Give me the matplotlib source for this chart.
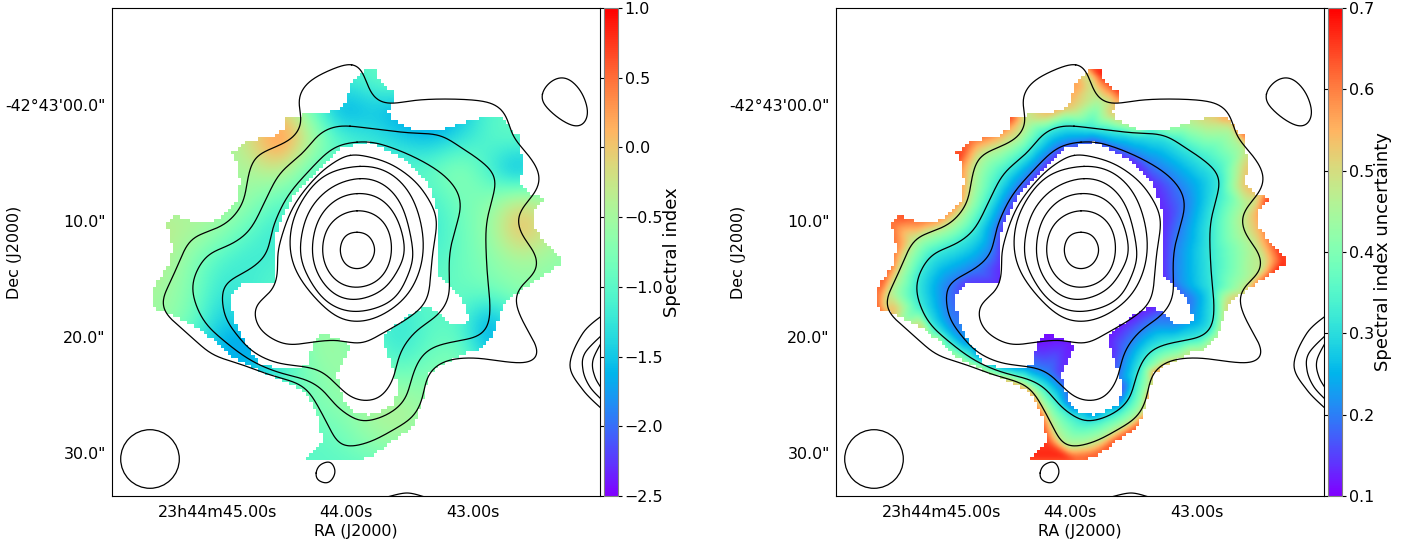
"""
Spectral index map and its uncertainty, with radio contours on top.
Everything positional is in map pixels of the plotted cutout.
"""
import numpy as np
import matplotlib
matplotlib.use('Agg')
import matplotlib.pyplot as plt
from matplotlib.colors import ListedColormap
from matplotlib.patches import Circle
from matplotlib.path import Path
from matplotlib.tri import Triangulation, LinearTriInterpolator

# tick labels
ra_ticks = [218, 345.5, 473]
ra_labels = ['23h44m45.00s', '44.00s', '43.00s']
dec_ticks = [105, 221, 337, 453]
dec_labels = ['-42°43\'00.0"', '10.0"', '20.0"', '30.0"']

# contours, outermost first
cont0 = [(352,63),(360,67),(367,83),(373,97),(387,104),(417,100),(450,99),(483,101),(500,107),(508,120),
         (513,137),(530,157),(540,175),(537,190),(523,207),(517,220),(523,237),(535,253),(537,270),(520,287),
         (515,300),(522,320),(537,347),(538,358),(527,363),(507,362),(477,358),(453,359),(437,365),(427,377),
         (422,400),(413,417),(393,430),(370,442),(347,447),(337,442),(327,423),(310,393),(297,383),(270,375),
         (243,365),(213,355),(197,342),(180,327),(165,313),(162,300),(170,283),(177,267),(190,240),(207,232),
         (227,223),(243,203),(248,177),(255,157),(273,148),(293,138),(302,122),(298,100),(307,83),(330,70)]
cont1 = [(350,126),(383,130),(410,133),(440,135),(460,147),(477,158),(493,172),(496,183),(492,200),(486,227),
         (487,270),(490,303),(488,327),(477,337),(457,341),(433,347),(420,358),(412,377),(405,400),(387,415),
         (363,422),(353,418),(337,407),(323,390),(307,380),(277,372),(250,360),(223,340),(203,320),(192,290),
         (198,268),(210,253),(230,245),(250,230),(267,197),(280,173),(303,153),(320,133),(337,126)]
cont2 = [(357,142),(377,143),(410,155),(440,172),(457,190),(461,207),(455,230),(450,250),(449,270),(449,297),
         (438,315),(417,330),(403,347),(397,363),(393,380),(380,398),(363,401),(350,397),(337,385),(323,372),
         (307,367),(277,363),(253,352),(237,335),(225,317),(222,293),(227,282),(252,268),(267,253),(273,227),
         (287,197),(307,173),(333,148)]
cont3 = [(350,154),(370,157),(393,165),(417,183),(433,207),(437,223),(433,250),(431,270),(427,300),(410,317),
         (383,333),(367,342),(357,344),(337,340),(313,342),(293,345),(280,343),(260,330),(254,313),(257,303),
         (273,290),(278,270),(278,250),(293,207),(320,173),(343,157)]
cont4 = [(360,166),(390,173),(412,197),(423,235),(420,270),(403,300),(370,320),(337,317),(303,283),(290,250),
         (296,212),(322,177)]
cont5 = [(360,178),(385,185),(403,208),(413,250),(410,270),(393,300),(357,312),(328,303),(308,277),(300,250),
         (308,213),(330,188)]
cont6 = [(357,193),(380,198),(397,218),(405,250),(398,270),(383,290),(357,300),(335,295),(318,275),(312,250),
         (318,220),(335,200)]
cont7 = [(357,210),(375,214),(388,228),(392,250),(387,270),(375,283),(357,288),(340,284),(327,270),(322,250),
         (327,228),(340,215)]
cont8 = [(357,232),(369,236),(375,250),(369,264),(357,269),(345,264),(340,250),(345,236)]
blob_ne = [(542,93),(550,82),(562,77),(573,82),(583,95),(588,113),(583,125),(573,126),(557,117),(543,103)]
blob_s = [(316,473),(320,465),(330,462),(335,470),(333,478),(327,483),(318,480)]

# open pieces that run off the edges of the cutout
edge_e0 = [(604,314),(583,333),(570,365),(583,390),(604,411)]
edge_e1 = [(604,333),(585,353),(583,370),(590,387),(604,402)]
edge_e2 = [(604,338),(593,360),(595,377),(604,392)]
edge_s = [(380,499),(387,497),(407,493),(425,497),(432,499)]

closed_contours = [cont0, cont1, cont2, cont3, cont4, cont5, cont6, cont7, cont8, blob_ne, blob_s]
open_contours = [edge_e0, edge_e1, edge_e2, edge_s]

beam_centre = (150, 459)
beam_radius = 29.3

# outline of the region with a measured index, and the uncertainty there
outer_edge = [(369,68),(378,68),(378,78),(383,85),(397,92),(392,103),(388,112),(393,120),(413,130),(443,130),
              (463,123),(483,117),(503,118),(510,128),(520,137),(523,167),(520,185),(530,193),(545,198),(533,213),
              (535,230),(547,243),(563,262),(553,270),(530,285),(515,295),(502,308),(498,322),(493,337),(478,352),
              (467,353),(440,365),(430,373),(423,400),(413,427),(393,440),(370,458),(350,460),(303,461),(323,442),
              (317,413),(307,393),(280,380),(257,369),(233,357),(213,340),(197,327),(167,313),(151,307),(153,290),
              (163,273),(168,268),(173,247),(167,223),(172,217),(180,217),(197,223),(217,220),(237,200),(240,183),
              (238,167),(232,153),(247,140),(273,137),(285,128),(285,117),(327,112),(343,107),(352,83),(363,70)]
outer_err = [.70,.70,.66,.62,.68,.58,.54,.50,.44,.42,
             .46,.52,.60,.62,.63,.54,.54,.60,.70,.56,
             .55,.62,.70,.68,.60,.55,.52,.48,.47,.48,
             .50,.60,.66,.65,.66,.66,.67,.67,.67,.66,
             .62,.55,.55,.50,.45,.50,.53,.58,.68,.66,
             .62,.60,.60,.62,.64,.64,.60,.58,.58,.56,
             .58,.70,.62,.56,.56,.68,.56,.54,.58,.66]
hole_edge = [(368,142),(337,150),(322,167),(293,197),(277,227),(276,268),(277,285),(240,285),(232,293),(233,317),
             (247,345),(260,365),(297,370),(307,365),(313,345),(320,333),(343,340),(350,347),(337,373),(343,398),
             (350,410),(370,415),(393,405),(398,387),(388,353),(382,340),(393,327),(417,310),(428,307),(440,313),
             (450,323),(465,323),(468,318),(463,300),(450,288),(439,277),(438,267),(440,217),(430,187),(407,160),
             (377,145)]
hole_err = [.15,.14,.13,.14,.14,.13,.13,.14,.17,.19,
            .26,.33,.28,.20,.12,.11,.12,.12,.14,.17,
            .22,.22,.20,.15,.13,.12,.12,.12,.12,.15,
            .20,.24,.22,.18,.14,.13,.13,.13,.13,.13,
            .15]
cont0_err = 0.47
cont1_err = 0.32
cont2_err = 0.20

# spectral index read on a coarse grid
index_x = [160,190,220,250,280,310,340,370,400,430,460,490,520,550,580]
index_y = [50,80,110,140,170,200,230,260,290,320,350,380,410,440,470]
index_grid = [
 [-1.0,-1.0,-1.0,-1.0,-1.0,-1.0,-1.0,-1.0,-1.0,-1.0,-1.0,-1.0,-1.0,-1.0,-1.0],
 [-1.0,-1.0,-1.0,-1.0,-1.0,-1.0,-1.2,-1.0,-0.7,-1.0,-1.0,-1.0,-1.0,-1.0,-1.0],
 [-0.6,-0.6,-0.6,-0.5, 0.1,-0.8,-1.9,-1.5,-1.8,-1.9,-1.7,-1.0,-1.0,-1.0,-1.0],
 [-0.6,-0.6,-0.6,-0.1, 0.6,-0.3,-1.0,-1.2,-1.4,-1.6,-1.3,-1.0,-0.9,-1.0,-1.0],
 [-0.5,-0.5,-0.5,-0.5,-0.2,-1.0,-1.1,-1.1,-1.0,-0.9,-0.55,-1.2,-2.0,-1.0,-1.0],
 [-0.5,-0.5,-0.4,-0.6,-1.0,-1.0,-1.0,-1.0,-1.0,-1.2,-0.8,-0.7,-0.1,-0.6,-0.6],
 [-0.3,-0.4,-0.6,-1.0,-1.3,-1.0,-1.0,-1.0,-1.0,-1.3,-0.9,-0.6, 0.3,-0.3,-0.6],
 [-0.3,-0.7,-1.1,-1.25,-1.1,-1.0,-1.0,-1.0,-1.0,-1.1,-0.9,-0.7,-0.5,-0.6,-0.7],
 [-0.5,-0.7,-1.3,-1.1,-1.0,-1.0,-1.0,-1.0,-1.0,-1.0,-0.9,-0.8,-0.6,-0.7,-0.7],
 [-0.5,-0.8,-1.5,-1.4,-1.0,-0.6,-0.6,-1.0,-1.3,-1.0,-1.0,-1.9,-1.0,-1.0,-1.0],
 [-0.8,-1.2,-1.7,-1.9,-1.3,-0.6,-0.5,-0.9,-1.3,-0.9,-0.8,-1.8,-1.0,-1.0,-1.0],
 [-1.0,-1.0,-1.3,-1.4,-1.1,-0.8,-0.55,-0.6,-0.75,-0.7,-0.6,-0.8,-1.0,-1.0,-1.0],
 [-1.0,-1.0,-1.0,-1.0,-1.0,-0.8,-0.7,-0.45,-0.35,-0.6,-0.7,-1.0,-1.0,-1.0,-1.0],
 [-1.0,-1.0,-1.0,-1.0,-1.0,-1.0,-0.9,-0.6,-0.5,-0.7,-1.0,-1.0,-1.0,-1.0,-1.0],
 [-1.0,-1.0,-1.0,-1.0,-1.0,-1.0,-1.0,-1.0,-1.0,-1.0,-1.0,-1.0,-1.0,-1.0,-1.0],
]

W, H = 1416, 546
xlim = (112, 600)
ylim = (496, 8)
block = 3.4


def pix_rect(x0, y0, x1, y1):
    return [x0 / W, 1 - y1 / H, (x1 - x0) / W, (y1 - y0) / H]


def spline(pts, closed=True, nsub=10):
    # catmull-rom through the vertices
    p = np.array(pts, dtype=float)
    if closed:
        p = np.vstack([p[-1], p, p[0], p[1]])
    else:
        p = np.vstack([p[0], p, p[-1]])
    t = np.linspace(0, 1, nsub, endpoint=False)[:, None]
    out = []
    for i in range(1, len(p) - 2):
        p0, p1, p2, p3 = p[i - 1], p[i], p[i + 1], p[i + 2]
        out.append(0.5 * (2 * p1 + (p2 - p0) * t + (2 * p0 - 5 * p1 + 4 * p2 - p3) * t ** 2
                          + (3 * p1 - p0 - 3 * p2 + p3) * t ** 3))
    out = np.vstack(out)
    return np.vstack([out, out[0]]) if closed else np.vstack([out, p[-2]])


def round_off(pts):
    # hand read vertices leave kinks, run a box along the closed line twice
    xy = spline(pts)
    s = np.r_[0, np.cumsum(np.hypot(*np.diff(xy, axis=0).T))]
    n = int(s[-1])
    si = np.linspace(0, s[-1], n, endpoint=False)
    x = np.interp(si, s, xy[:, 0])
    y = np.interp(si, s, xy[:, 1])
    win = max(3, min(19, n // 12))
    kernel = np.ones(win) / win
    for i in range(2):
        x = np.convolve(np.r_[x[-win:], x, x[:win]], kernel, 'same')[win:-win]
        y = np.convolve(np.r_[y[-win:], y, y[:win]], kernel, 'same')[win:-win]
    return np.column_stack([np.r_[x, x[0]], np.r_[y, y[0]]])


def white_mask():
    # blocky like the map pixels: white outside the measured region
    xs = np.arange(xlim[0], xlim[1] + block, block)
    ys = np.arange(ylim[1], ylim[0] + block, block)
    xc, yc = np.meshgrid(xs + block / 2, ys + block / 2)
    pts = np.column_stack([xc.ravel(), yc.ravel()])
    inside = Path(outer_edge + [outer_edge[0]]).contains_points(pts)
    inside &= ~Path(hole_edge + [hole_edge[0]]).contains_points(pts)
    return inside.reshape(xc.shape), (xs[0], xs[-1] + block, ys[-1] + block, ys[0])


def finish_panel(ax, mappable, cax, ticks, label):
    inside, extent = white_mask()
    white = ListedColormap(['white', (1, 1, 1, 0)])
    ax.imshow(inside, cmap=white, vmin=0, vmax=1, extent=extent, origin='upper',
              interpolation='nearest', aspect='auto', zorder=2)
    for c in closed_contours:
        xy = round_off(c)
        ax.plot(xy[:, 0], xy[:, 1], color='k', lw=0.9, zorder=3)
    for c in open_contours:
        xy = spline(c, closed=False)
        ax.plot(xy[:, 0], xy[:, 1], color='k', lw=0.9, zorder=3)
    ax.add_patch(Circle(beam_centre, beam_radius, fill=False, ec='k', lw=0.9, zorder=3))

    ax.set_xlim(xlim)
    ax.set_ylim(ylim)
    ax.set_xticks(ra_ticks, ra_labels)
    ax.set_yticks(dec_ticks, dec_labels)
    ax.tick_params(length=0, labelsize=11.4)
    ax.tick_params(axis='x', pad=6.5)
    ax.tick_params(axis='y', pad=4.5)
    ax.set_xlabel('RA (J2000)', fontsize=11.4, labelpad=3)
    ax.set_ylabel('Dec (J2000)', fontsize=11.4)
    ax.yaxis.set_label_coords(-90 / 488, 244 / 488)

    cb = fig.colorbar(mappable, cax=cax, ticks=ticks)
    cb.ax.tick_params(labelsize=11.4, left=True, right=True, length=2.7, width=0.8, pad=2)
    cb.set_label(label, fontsize=13, labelpad=0)
    cb.outline.set_edgecolor('0.5')


fig = plt.figure(figsize=(W / 100, H / 100), dpi=100)

# left, spectral index
ax1 = fig.add_axes(pix_rect(112, 8, 600, 496))
cax1 = fig.add_axes(pix_rect(603.5, 8, 618, 496))
half = (index_x[1] - index_x[0]) / 2
im = ax1.imshow(index_grid, cmap='rainbow', vmin=-2.5, vmax=1.0, origin='upper',
                extent=(index_x[0] - half, index_x[-1] + half, index_y[-1] + half, index_y[0] - half),
                interpolation='bicubic', aspect='auto', zorder=1)
finish_panel(ax1, im, cax1, np.arange(-2.5, 1.01, 0.5), 'Spectral index')

# right, uncertainty, spread between the region edges and the contour lines
ax2 = fig.add_axes(pix_rect(836, 8, 1324, 496))
cax2 = fig.add_axes(pix_rect(1327.5, 8, 1342, 496))
parts = [(np.array(outer_edge, dtype=float), np.array(outer_err)),
         (np.array(hole_edge, dtype=float), np.array(hole_err))]
for c, e in [(cont0, cont0_err), (cont1, cont1_err), (cont2, cont2_err)]:
    xy = spline(c, nsub=2)[:-1]
    parts.append((xy, np.full(len(xy), e)))
err_pts = np.vstack([p[0] for p in parts])
err_vals = np.concatenate([p[1] for p in parts])
err_pts, first = np.unique(err_pts, axis=0, return_index=True)
err_vals = err_vals[first]
tri = Triangulation(err_pts[:, 0], err_pts[:, 1])
gx, gy = np.meshgrid(np.arange(112, 601, 2.0), np.arange(8, 497, 2.0))
field = LinearTriInterpolator(tri, err_vals)(gx, gy).filled(0.6)
# the triangles fan out, a short blur takes the facets away
kernel = np.array([1, 2, 3, 4, 3, 2, 1]) / 16
field = np.apply_along_axis(np.convolve, 0, field, kernel, 'same')
field = np.apply_along_axis(np.convolve, 1, field, kernel, 'same')
tp = ax2.imshow(field, cmap='rainbow', vmin=0.1, vmax=0.7, origin='upper',
                extent=(111, 601, 497, 7), interpolation='bilinear', aspect='auto', zorder=1)
finish_panel(ax2, tp, cax2, np.arange(0.1, 0.71, 0.1), 'Spectral index uncertainty')

fig.savefig('out.png', dpi=100)
